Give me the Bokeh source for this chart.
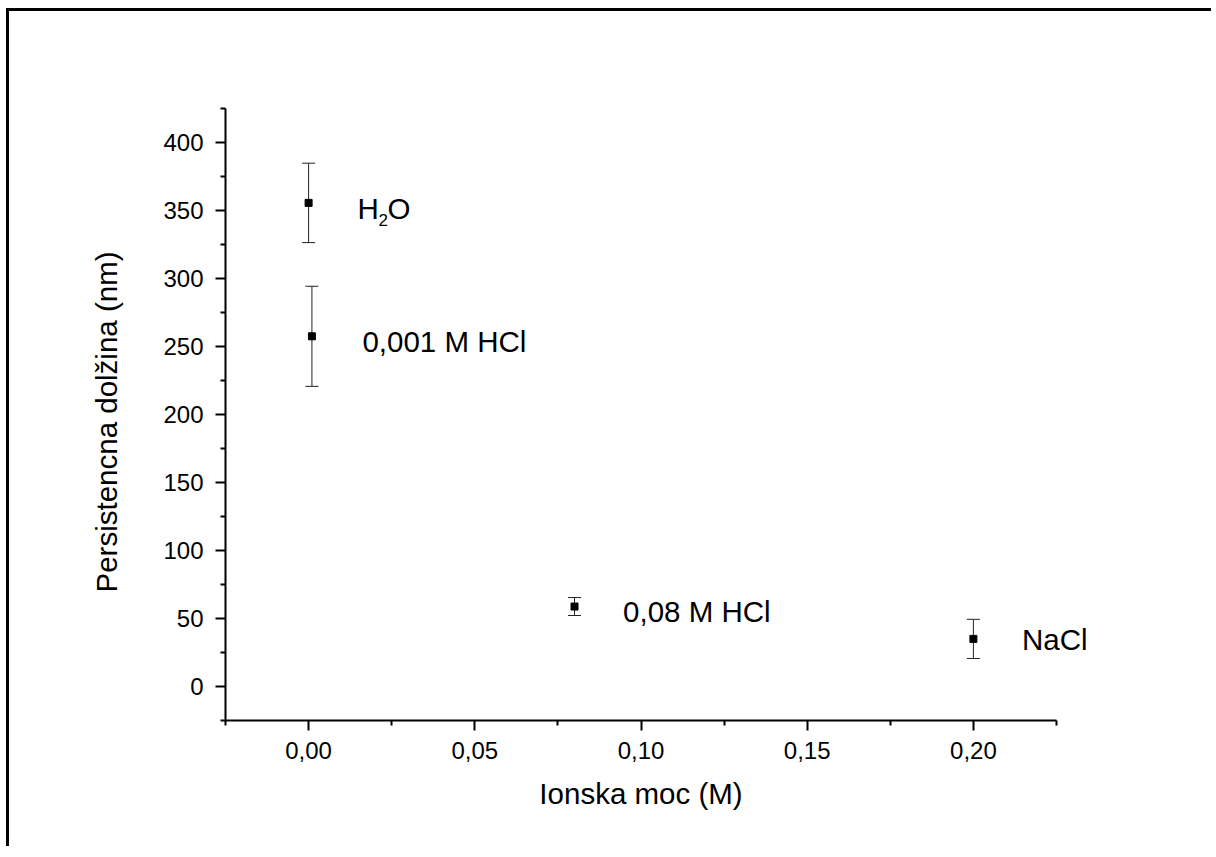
from bokeh.plotting import figure
from bokeh.models import (FixedTicker, Whisker, ColumnDataSource, Label, TeeHead, Title)
from bokeh.embed import file_html
from bokeh.resources import INLINE

# Data
ionic_strength = [0.0, 0.001, 0.08, 0.2]
persistence = [355.6, 257.5, 58.8, 35.0]
errors = [29.2, 36.8, 6.6, 14.4]
sample_labels = ["H2O", "0,001 M HCl", "0,08 M HCl", "NaCl"]
label_x = [0.0147, 0.0162, 0.0946, 0.2146]
label_y = [351.5, 254.0, 55.4, 34.7]

x_ticks = [0.0, 0.05, 0.10, 0.15, 0.20]
x_tick_labels = ["0,00", "0,05", "0,10", "0,15", "0,20"]
y_ticks = [0, 50, 100, 150, 200, 250, 300, 350, 400]
x_title = "Ionska moc (M)"
y_title = "Persistencna dolžina (nm)"

FONT = "Liberation Sans"

W, H = 1216, 846
LEFT, TOP, BOTTOM = 225, 108, 720
RIGHT_EDGE = 1110
px_per_x = (1056 - 225) / 0.25
x_end = 0.225 + (RIGHT_EDGE - 1056) / px_per_x

p = figure(width=W, height=H, x_range=(-0.025, x_end), y_range=(-25, 425),
           output_backend="svg", toolbar_location=None,
           min_border_left=LEFT, min_border_right=W - RIGHT_EDGE,
           min_border_top=TOP, min_border_bottom=H - BOTTOM)
# outer page frame (top and left edges), drawn as inset shadows behind a transparent border area
p.styles = {"box-shadow": ("inset -5px 0px 0px 0px white, inset 6px 8px 0px 0px white, "
                           "inset 9px 11px 0px 0px black"),
            "background-color": "white"}
p.xgrid.visible = False
p.ygrid.visible = False
p.outline_line_color = None
p.background_fill_color = "white"
p.border_fill_color = None

src = ColumnDataSource(dict(x=ionic_strength, y=persistence,
                            lo=[a - b for a, b in zip(persistence, errors)],
                            hi=[a + b for a, b in zip(persistence, errors)]))

w = Whisker(source=src, base="x", upper="hi", lower="lo", line_color="#222222", line_width=1,
            upper_head=TeeHead(size=13, line_color="#222222", line_width=1),
            lower_head=TeeHead(size=13, line_color="#222222", line_width=1))
p.add_layout(w)
p.scatter("x", "y", source=src, marker="square", size=7, color="black")

# axes
for ax in (p.xaxis[0], p.yaxis[0]):
    ax.axis_line_width = 2
    ax.axis_line_color = "black"
    ax.major_tick_line_width = 2
    ax.minor_tick_line_width = 2
    ax.major_tick_in = 0
    ax.major_tick_out = 10
    ax.minor_tick_in = 0
    ax.minor_tick_out = 5
    ax.major_label_text_font = FONT
    ax.major_label_text_font_size = "24px"
    ax.major_label_text_color = "black"

p.xaxis.bounds = (-0.025, 0.225)
p.xaxis.ticker = FixedTicker(ticks=x_ticks, minor_ticks=[-0.025, 0.025, 0.075, 0.125, 0.175, 0.225])
p.xaxis.major_label_overrides = {t: l for t, l in zip(x_ticks, x_tick_labels)}
p.xaxis.major_label_standoff = 11

p.yaxis.ticker = FixedTicker(ticks=y_ticks, minor_ticks=[-25, 25, 75, 125, 175, 225, 275, 325, 375, 425])
p.yaxis.major_label_standoff = 12

# axis titles (placed as side titles so they centre on the drawn axis extent)
TITLE_SIZE = 29.5
xt_width = 6.89 * TITLE_SIZE
p.add_layout(Title(text=x_title, align="left", offset=(1056 - 225) / 2 - xt_width / 2,
                   text_font=FONT, text_font_size=f"{TITLE_SIZE}px", text_font_style="normal",
                   text_color="black", standoff=27), "below")
p.add_layout(Title(text=y_title, align="left", offset=BOTTOM - 592,
                   text_font=FONT, text_font_size=f"{TITLE_SIZE}px", text_font_style="normal",
                   text_color="black", standoff=76), "left")

# sample annotations
for name, lx, ly in zip(sample_labels, label_x, label_y):
    if name == "H2O":
        p.add_layout(Label(x=lx, y=ly, text="H", text_font=FONT, text_font_size="29.5px",
                           text_color="black", text_baseline="middle", text_align="left"))
        p.add_layout(Label(x=lx, y=ly, text="2", x_offset=21, y_offset=-12, text_font=FONT,
                           text_color="black", text_font_size="17px", text_baseline="middle",
                           text_align="left"))
        p.add_layout(Label(x=lx, y=ly, text="O", x_offset=30, text_font=FONT, text_font_size="29.5px",
                           text_color="black", text_baseline="middle", text_align="left"))
    else:
        p.add_layout(Label(x=lx, y=ly, text=name, text_font=FONT, text_font_size="29.5px",
                           text_color="black", text_baseline="middle", text_align="left"))

open("out.html", "w").write(file_html(p, INLINE))
